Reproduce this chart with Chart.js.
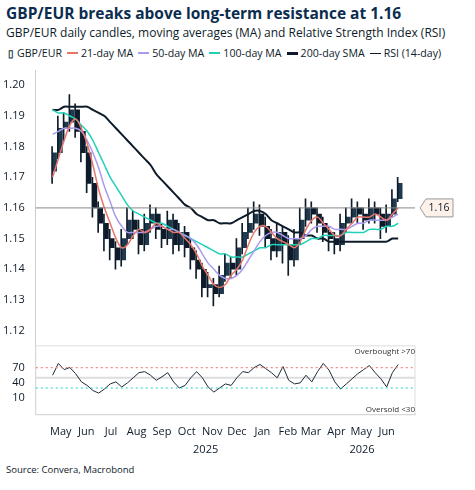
<!DOCTYPE html>
<html><head><meta charset="utf-8">
<script src="https://cdn.jsdelivr.net/npm/chart.js@4"></script>
<style>
body{margin:0;font-family:"Open Sans",sans-serif;color:#0d1b2a;width:475px;height:490px;position:relative;background:#fff}
#t{position:absolute;left:6px;top:2px;font-size:15.5px;font-weight:bold;color:#0b2d4f}
#s{position:absolute;left:6px;top:24px;font-size:12px;color:#0d1b2a}
#lg{position:absolute;left:8px;top:46px;font-size:10.6px;display:flex;gap:5px;align-items:center;white-space:nowrap}
#lg span{display:inline-flex;align-items:center;gap:3px}
#lg i{display:inline-block;width:11px;height:2px}
#src{position:absolute;left:6px;top:463px;font-size:9.5px}
#c{position:absolute;left:0;top:58px}
</style></head><body>
<div id="t">GBP/EUR breaks above long-term resistance at 1.16</div>
<div id="s">GBP/EUR daily candles, moving averages (MA) and Relative Strength Index (RSI)</div>
<div id="lg">
<span><b style="font-size:10px;color:#0b3a4a">&#9647;</b>GBP/EUR</span>
<span><i style="background:#e8756a"></i>21-day MA</span>
<span><i style="background:#a99bf0"></i>50-day MA</span>
<span><i style="background:#1fd1b5"></i>100-day MA</span>
<span><i style="background:#0d1b2a;height:3px"></i>200-day SMA</span>
<span><i style="background:#0d1b2a;height:1px"></i>RSI (14-day)</span>
</div>
<canvas id="c" width="475" height="404"></canvas>
<div id="src">Source: Convera, Macrobond</div>
<script>
// week index -> day offset from 2025-05-01 is 7*i+4
const closes=[1.178,1.186,1.188,1.192,1.185,1.178,1.168,1.160,1.155,1.150,1.147,1.143,1.150,1.156,1.153,1.148,1.155,1.158,1.153,1.150,1.156,1.148,1.152,1.147,1.143,1.140,1.134,1.135,1.132,1.138,1.142,1.140,1.147,1.152,1.155,1.158,1.154,1.150,1.146,1.152,1.148,1.143,1.150,1.156,1.160,1.158,1.155,1.152,1.150,1.148,1.155,1.157,1.160,1.158,1.156,1.160,1.158,1.154,1.158,1.163,1.168];
const opens=[1.172,1.178,1.186,1.188,1.192,1.185,1.178,1.168,1.160,1.155,1.150,1.147,1.143,1.150,1.156,1.153,1.148,1.155,1.158,1.153,1.150,1.156,1.148,1.152,1.147,1.143,1.140,1.134,1.135,1.132,1.138,1.142,1.140,1.147,1.152,1.155,1.158,1.154,1.150,1.146,1.152,1.148,1.143,1.150,1.156,1.160,1.158,1.155,1.152,1.150,1.148,1.155,1.157,1.160,1.158,1.156,1.160,1.158,1.154,1.158,1.163];
const highs=[1.180,1.190,1.191,1.197,1.194,1.187,1.180,1.170,1.162,1.158,1.153,1.149,1.153,1.160,1.159,1.156,1.158,1.161,1.160,1.155,1.159,1.158,1.155,1.154,1.150,1.146,1.142,1.139,1.137,1.141,1.145,1.144,1.150,1.155,1.160,1.162,1.161,1.157,1.153,1.155,1.154,1.151,1.153,1.160,1.163,1.162,1.160,1.157,1.154,1.152,1.158,1.160,1.163,1.162,1.160,1.163,1.162,1.160,1.161,1.166,1.170];
const lows=[1.168,1.176,1.182,1.185,1.183,1.175,1.165,1.157,1.152,1.146,1.143,1.140,1.141,1.148,1.150,1.145,1.146,1.152,1.150,1.147,1.148,1.145,1.146,1.144,1.140,1.137,1.131,1.131,1.128,1.131,1.136,1.137,1.138,1.145,1.150,1.153,1.151,1.147,1.143,1.144,1.142,1.138,1.141,1.148,1.154,1.155,1.152,1.149,1.146,1.145,1.146,1.152,1.155,1.155,1.153,1.155,1.155,1.150,1.152,1.157,1.162];
const ma21=[1.170,1.176,1.182,1.187,1.189,1.186,1.181,1.174,1.166,1.160,1.155,1.150,1.147,1.148,1.151,1.153,1.152,1.153,1.155,1.154,1.153,1.152,1.152,1.150,1.148,1.145,1.141,1.138,1.135,1.134,1.135,1.138,1.140,1.143,1.148,1.152,1.154,1.154,1.152,1.150,1.149,1.148,1.147,1.149,1.153,1.156,1.157,1.155,1.153,1.151,1.151,1.153,1.155,1.157,1.157,1.157,1.158,1.157,1.156,1.158,1.160];
const ma50=[1.184,1.185,1.186,1.186,1.186,1.185,1.182,1.178,1.173,1.167,1.162,1.157,1.154,1.152,1.152,1.152,1.152,1.153,1.154,1.154,1.153,1.153,1.152,1.151,1.150,1.148,1.145,1.142,1.140,1.138,1.137,1.137,1.138,1.140,1.143,1.146,1.149,1.151,1.152,1.152,1.151,1.150,1.150,1.150,1.151,1.153,1.154,1.154,1.154,1.153,1.153,1.153,1.154,1.155,1.155,1.156,1.156,1.156,1.156,1.157,1.158];
const ma100=[1.192,1.191,1.191,1.190,1.189,1.187,1.185,1.182,1.178,1.174,1.170,1.167,1.164,1.161,1.159,1.158,1.157,1.156,1.155,1.155,1.154,1.153,1.152,1.151,1.150,1.149,1.148,1.147,1.146,1.145,1.145,1.144,1.144,1.144,1.145,1.146,1.147,1.147,1.148,1.148,1.148,1.148,1.148,1.148,1.149,1.150,1.150,1.151,1.151,1.151,1.151,1.152,1.152,1.152,1.152,1.153,1.153,1.153,1.154,1.154,1.155];
const sma200=[1.192,1.192,1.193,1.193,1.193,1.193,1.193,1.192,1.191,1.190,1.188,1.186,1.184,1.182,1.180,1.178,1.176,1.174,1.171,1.169,1.167,1.165,1.163,1.161,1.160,1.158,1.157,1.156,1.156,1.155,1.155,1.155,1.156,1.157,1.158,1.159,1.159,1.158,1.156,1.155,1.154,1.153,1.152,1.152,1.151,1.151,1.150,1.150,1.149,1.149,1.149,1.149,1.149,1.149,1.149,1.149,1.149,1.149,1.149,1.150,1.150];
const rsi=[55,78,66,70,58,42,35,25,20,28,38,42,32,40,50,60,62,55,45,52,60,42,30,35,50,62,50,32,22,30,38,35,50,62,60,70,76,68,60,50,72,45,38,40,55,42,62,78,65,42,28,38,48,58,66,74,60,48,32,60,76];
const monthDays=[14,45,75,106,137,167,198,228,259,290,318,349,379,410];
const monthNames=['May','Jun','Jul','Aug','Sep','Oct','Nov','Dec','Jan','Feb','Mar','Apr','May','Jun'];
const yearLabels=[{day:190,text:'2025'},{day:380,text:'2026'}];
const priceTicks=[1.12,1.13,1.14,1.15,1.16,1.17,1.18,1.19,1.20];
const rsiTicks=[10,40,70];

const day=i=>7*i+4;
const pts=a=>a.map((v,i)=>({x:day(i),y:v}));
const navy='#0d1b2a';
const line=(label,data,color,w,yAxis)=>({type:'line',label,data:pts(data),borderColor:color,borderWidth:w,pointRadius:0,tension:0.3,yAxisID:yAxis});

const extra={id:'extra',afterDraw(ch){
  const c=ch.ctx,x=ch.scales.x,y=ch.scales.yP,r=ch.scales.yR,a=ch.chartArea;
  c.save();
  const yy=y.getPixelForValue(1.16);
  c.strokeStyle='#888';c.lineWidth=1;c.beginPath();c.moveTo(a.left,yy);c.lineTo(a.right,yy);c.stroke();
  c.fillStyle='#fdf1ea';c.strokeStyle='#999';
  c.beginPath();c.moveTo(a.right+5,yy);c.lineTo(a.right+11,yy-9);c.lineTo(a.right+38,yy-9);c.lineTo(a.right+38,yy+9);c.lineTo(a.right+11,yy+9);c.closePath();c.fill();c.stroke();
  c.fillStyle=navy;c.font='10.5px "Open Sans"';c.textAlign='center';c.textBaseline='middle';c.fillText('1.16',a.right+24,yy);
  c.setLineDash([2,3]);c.lineWidth=1.2;
  c.strokeStyle='#f08a80';let p=r.getPixelForValue(70);c.beginPath();c.moveTo(a.left,p);c.lineTo(a.right,p);c.stroke();
  c.strokeStyle='#1fd1b5';p=r.getPixelForValue(30);c.beginPath();c.moveTo(a.left,p);c.lineTo(a.right,p);c.stroke();
  c.setLineDash([]);
  c.font='8px "Open Sans"';c.textAlign='right';c.fillStyle='#333';
  c.fillText('Overbought >70',a.right,r.top+6);c.fillText('Oversold <30',a.right,r.bottom-5);
  c.font='11px "Open Sans"';c.textAlign='center';c.fillStyle=navy;
  yearLabels.forEach(l=>c.fillText(l.text,x.getPixelForValue(l.day),x.bottom+10));
  c.restore();
}};
const behind={id:'behind',beforeDatasetsDraw(ch){
  const c=ch.ctx,r=ch.scales.yR,a=ch.chartArea;
  const p=r.getPixelForValue(50);c.save();c.strokeStyle='#ddd';c.lineWidth=2;c.beginPath();c.moveTo(a.left,p);c.lineTo(a.right,p);c.stroke();
  c.strokeStyle='#ddd';c.lineWidth=1;c.strokeRect(a.left,r.top,a.right-a.left,r.bottom-r.top);c.restore();
}};

new Chart(document.getElementById('c'),{
  data:{datasets:[
    line('21-day MA',ma21,'#e8756a',1.5,'yP'),
    line('50-day MA',ma50,'#a99bf0',1.5,'yP'),
    line('100-day MA',ma100,'#1fd1b5',1.5,'yP'),
    line('200-day SMA',sma200,navy,2,'yP'),
    {type:'bar',label:'wick',data:highs.map((h,i)=>({x:day(i),y:[lows[i],h]})),backgroundColor:navy,barThickness:1,yAxisID:'yP'},
    {type:'bar',label:'body',data:opens.map((o,i)=>({x:day(i),y:[o,closes[i]]})),backgroundColor:opens.map((o,i)=>closes[i]>=o?'#1f3a4f':navy),barThickness:4,yAxisID:'yP'},
    {...line('RSI (14-day)',rsi,'#1b2a3a',1,'yR'),tension:0}
  ]},
  options:{responsive:false,animation:false,
    layout:{padding:{left:0,right:60,top:12,bottom:22}},
    plugins:{legend:{display:false},tooltip:{enabled:false}},
    scales:{
      x:{type:'linear',min:0,max:428,
        afterBuildTicks(s){s.ticks=monthDays.map(v=>({value:v}));},
        ticks:{callback:(v)=>monthNames[monthDays.indexOf(v)],color:navy,font:{size:11,family:'Open Sans'},maxRotation:0,autoSkip:false,padding:2},
        grid:{display:false},border:{color:'#ccc'}},
      yR:{type:'linear',position:'left',stack:'s',stackWeight:1,min:0,max:90,offset:true,
        afterBuildTicks(s){s.ticks=rsiTicks.map(v=>({value:v}));},
        ticks:{color:navy,font:{size:11,family:'Open Sans'},autoSkip:false},grid:{display:false},border:{color:'#ccc'}},
      yP:{type:'linear',position:'left',stack:'s',stackWeight:4,min:1.12,max:1.20,offset:true,
        afterBuildTicks(s){s.ticks=priceTicks.map(v=>({value:v}));},
        ticks:{color:navy,font:{size:11,family:'Open Sans'},callback:v=>v.toFixed(2),autoSkip:false},
        grid:{display:false},border:{color:'#ccc'}}
    }},
  plugins:[behind,extra]
});
</script>
</body></html>
